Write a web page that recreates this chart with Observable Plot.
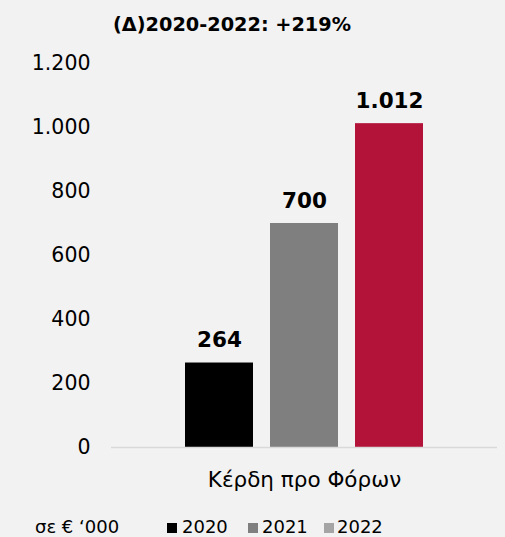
<!DOCTYPE html>
<html>
<head>
<meta charset="utf-8">
<script src="https://cdn.jsdelivr.net/npm/d3@7"></script>
<script src="https://cdn.jsdelivr.net/npm/@observablehq/plot@0.6"></script>
<style>
  html, body { margin: 0; padding: 0; background: #f2f2f2; }
  body { width: 505px; height: 537px; overflow: hidden; font-family: "DejaVu Sans", sans-serif; color: #000; }
  #title { height: 40px; box-sizing: border-box; padding-left: 113px; padding-top: 15px; font-weight: bold; font-size: 19.3px; line-height: 19px; white-space: nowrap; }
  #chart { height: 460px; }
  #legend { position: relative; height: 37px; font-size: 18px; line-height: 18px; }
  #legend span { position: absolute; top: 18px; white-space: nowrap; }
  #legend i { position: absolute; top: 23px; width: 10px; height: 10px; }
</style>
</head>
<body>
<div id="title"></div>
<div id="chart"></div>
<div id="legend"></div>
<script>
const titleText = "(Δ)2020-2022: +219%";
const category = "Κέρδη προ Φόρων";
const years = ["2020", "2021", "2022"];
const values = [264, 700, 1012];
const barColors = ["#000000", "#7f7f7f", "#b31239"];
const legendColors = ["#000000", "#7f7f7f", "#a5a5a5"];
const yTicks = [0, 200, 400, 600, 800, 1000, 1200];
const unitText = "σε € ‘000";

const locale = d3.formatLocale({decimal: ",", thousands: ".", grouping: [3], currency: ["", "€"]});
const fmt = locale.format(",d");

const data = years.map((y, i) => ({category, year: y, value: values[i]}));

document.getElementById("title").textContent = titleText;

const chart = Plot.plot({
  width: 505,
  height: 460,
  marginTop: 23,
  marginBottom: 53,
  marginLeft: 111,
  marginRight: 8,
  style: {background: "transparent", fontFamily: "\"DejaVu Sans\", sans-serif", fontSize: "20.5px", color: "#000"},
  fx: {domain: [category], padding: 0, label: null, axis: "bottom", tickSize: 0, tickPadding: 24},
  x: {domain: years, paddingInner: 0.2, paddingOuter: 0.857, axis: null},
  y: {domain: [0, 1200], ticks: yTicks, tickFormat: fmt, tickSize: 0, tickPadding: 21, label: null},
  color: {domain: years, range: barColors},
  marks: [
    Plot.barY(data, {fx: "category", x: "year", y: "value", fill: "year"}),
    Plot.ruleY([0], {stroke: "#d9d9d9", strokeWidth: 1.5}),
    Plot.text(data, {fx: "category", x: "year", y: "value", text: d => fmt(d.value), lineAnchor: "bottom", dy: -16, fontSize: 21.5, fontWeight: "bold", fill: "#000"})
  ]
});
d3.select(chart).selectAll('[aria-label="fx-axis tick label"]').attr("font-size", "21.5px");
document.getElementById("chart").appendChild(chart);

const legend = document.getElementById("legend");
const unit = document.createElement("span");
unit.textContent = unitText;
unit.style.left = "35px";
legend.appendChild(unit);
const swatchX = [167, 248, 324];
const labelX = [182, 262, 337];
years.forEach((y, i) => {
  const sw = document.createElement("i");
  sw.style.left = swatchX[i] + "px";
  sw.style.background = legendColors[i];
  legend.appendChild(sw);
  const t = document.createElement("span");
  t.textContent = y;
  t.style.left = labelX[i] + "px";
  legend.appendChild(t);
});
</script>
</body>
</html>
